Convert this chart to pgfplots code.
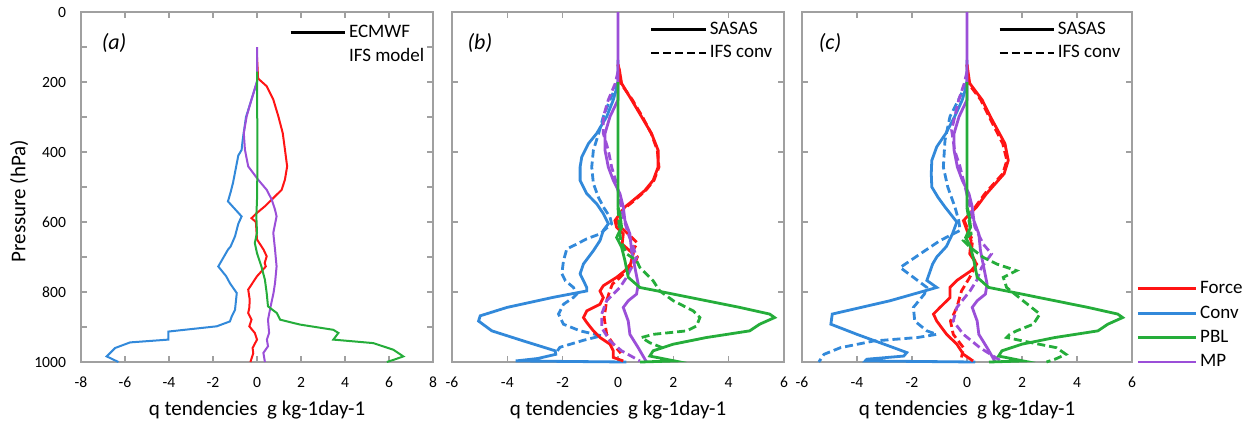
\documentclass[border=0pt]{standalone}
\usepackage{fontspec}
\setmainfont{Carlito}
\usepackage{pgfplots}
\pgfplotsset{compat=1.18}
\definecolor{cforce}{HTML}{FF1414}
\definecolor{cconv}{HTML}{3289DA}
\definecolor{cpbl}{HTML}{25AD3A}
\definecolor{cmp}{HTML}{9B4FD8}
\definecolor{axgray}{HTML}{A0A0A0}
\pgfplotsset{
  leg/.style={legend cell align=left,
    legend style={draw=none, fill=none, inner sep=0pt,
      font=\fontsize{9.5}{11}\selectfont,
      nodes={text height=6.8pt, text depth=2pt, inner sep=1.5pt}}},
  base/.style={scale only axis, height=175pt, y dir=reverse, ymin=0, ymax=1000, clip=false,
    anchor=north west,
    axis line style={axgray, line width=0.6pt},
    tick style={axgray, line width=0.6pt}, major tick length=3pt, minor tick length=3pt,
    tick label style={font=\fontsize{7.8}{9}\selectfont, text=black},
    /pgf/number format/assume math mode=true,
    /pgf/number format/1000 sep={},
    xticklabel style={yshift=-4pt},
    yticklabel style={xshift=-4pt},
    xlabel={q tendencies\ \ g kg-1day-1},
    label style={font=\fontsize{10.5}{12}\selectfont},
    xlabel style={at={(axis description cs:0.5,-0.137)}, anchor=center},
    ytick={0,200,...,1000},
    leg,
    legend image code/.code={\draw[##1] (0pt,0pt) -- (27pt,0pt);},
  },
  sol/.style={line width=1.4pt},
  das/.style={line width=1.4pt, dash pattern=on 4pt off 2pt},
}
\begin{document}
\begin{tikzpicture}
\path[use as bounding box] (0,0) rectangle (626.5pt,-214.5pt);
% ---------------- panel (a)
\begin{axis}[base, at={(40.5pt,-6pt)}, width=176pt, xmin=-8, xmax=8,
  xtick={-8,-6,...,8}, minor ytick={100,300,...,900},
  ylabel={Pressure (hPa)},
  ylabel style={at={(axis description cs:-0.176,0.46)}, anchor=center},
  legend style={at={(0.985,0.975)}, anchor=north east}]
\addlegendimage{black, line width=1.5pt}\addlegendentry{ECMWF}
\addlegendimage{empty legend}\addlegendentry{IFS model}
\addplot[cconv, line width=1pt, forget plot] coordinates {(0,150) (0,200) (-0.25,250) (-0.5,300) (-0.65,365) (-0.70,394) (-0.85,410) (-1.09,488) (-1.2,515) (-1.32,541) (-0.70,584) (-0.85,605) (-1.0,641) (-1.2,670) (-1.32,679) (-1.76,727) (-1.4,755) (-1.23,775) (-0.92,803) (-1.0,851) (-1.15,870) (-1.23,884) (-1.83,898) (-4.03,913) (-4.03,936) (-5.77,944) (-6.45,960) (-6.83,984) (-6.3,1000)};
\addplot[cforce, line width=1pt, forget plot] coordinates {(0,130) (0.05,190) (0.44,212) (0.74,250) (0.97,298) (1.17,346) (1.27,393) (1.37,441) (1.27,479) (1.12,508) (0.67,536) (0.36,555) (0,574) (-0.25,589) (-0.05,600) (0,650) (0.3,679) (0.44,698) (0.35,717) (0.4,727) (0,755) (-0.4,793) (-0.33,822) (-0.35,845) (-0.4,860) (-0.25,879) (-0.35,898) (-0.1,917) (0,936) (-0.2,960) (-0.17,975) (-0.3,1000)};
\addplot[cmp, line width=1pt, forget plot] coordinates {(0,100) (0,198) (-0.25,250) (-0.47,298) (-0.6,346) (-0.55,393) (-0.4,441) (0.05,479) (0.44,508) (0.67,536) (0.82,565) (0.89,584) (0.74,631) (0.82,679) (0.89,727) (0.82,774) (0.75,803) (0.62,841) (0.5,879) (0.55,917) (0.45,936) (0.5,955) (0.29,974) (0.36,1000)};
\addplot[cpbl, line width=1pt, forget plot] coordinates {(0,170) (0,250) (0.02,346) (0.02,441) (0,536) (-0.03,584) (0,631) (-0.1,660) (0,689) (0.2,727) (0.36,765) (0.44,803) (0.5,841) (0.9,860) (1.05,879) (1.95,893) (3.47,908) (3.7,917) (3.47,936) (5.29,946) (6.2,965) (6.65,984) (6.2,994) (5.9,1000)};
\node[font=\itshape\fontsize{11}{13}\selectfont] at (axis description cs:0.094,0.911) {(a)};
\end{axis}
% ---------------- panel (b)
\begin{axis}[base, at={(226pt,-6pt)}, width=166pt, xmin=-6, xmax=6,
  xtick={-6,-4,...,6}, yticklabels={},
  legend style={at={(0.975,0.985)}, anchor=north east}]
\addlegendimage{black, sol}\addlegendentry{SASAS}
\addlegendimage{black, das}\addlegendentry{IFS conv}
\addplot[cconv, sol, forget plot] coordinates {(0,137) (0,204) (-0.17,251) (-0.41,299) (-0.77,347) (-1.07,376) (-1.31,414) (-1.37,443) (-1.37,481) (-1.13,519) (-0.77,548) (-0.53,576) (-0.35,605) (-0.53,624) (-0.65,653) (-0.89,682) (-1.25,720) (-1.37,748) (-1.13,787) (-1.13,797) (-2.33,815) (-4.01,844) (-4.98,868) (-5.04,883) (-4.56,911) (-3.41,940) (-2.27,968) (-2.25,978) (-2.9,990) (-3.7,997) (0.3,1000)};
\addplot[cconv, das, forget plot] coordinates {(0,200) (-0.29,251) (-0.53,299) (-0.7,347) (-0.89,395) (-0.95,443) (-0.89,490) (-0.71,529) (-0.53,557) (-0.29,586) (-0.23,605) (-0.65,634) (-1.13,648) (-1.49,663) (-1.85,677) (-1.97,710) (-2.03,748) (-1.9,768) (-1.61,787) (-1.49,806) (-1.62,816) (-1.97,835) (-2.15,863) (-1.97,892) (-1.37,911) (-0.6,925) (-1.25,938) (-2.1,958) (-2.25,975)};
\addplot[cforce, sol, forget plot] coordinates {(0,150) (0.05,165) (0.13,204) (0.49,251) (0.85,299) (1.21,347) (1.45,395) (1.45,443) (1.27,481) (0.97,510) (0.55,538) (0.25,557) (0.07,576) (-0.11,596) (-0.05,615) (0.19,634) (0.15,663) (0.55,691) (0.45,720) (0.25,739) (-0.05,758) (-0.53,782) (-0.65,797) (-0.53,816) (-0.65,835) (-1.13,854) (-1.25,873) (-1.13,887) (-0.89,911) (-0.65,930) (-0.29,949) (-0.17,968) (-0.17,987) (0.19,997)};
\addplot[cforce, das, forget plot] coordinates {(0,150) (0.1,204) (0.52,251) (0.88,299) (1.2,347) (1.42,395) (1.48,443) (1.3,481) (1.0,510) (0.6,538) (0.3,557) (0.05,576) (-0.05,596) (0.1,615) (0.45,640) (0.7,660) (0.55,680) (0.7,700) (0.6,720) (0.3,740) (-0.05,768) (-0.2,777) (-0.3,797) (-0.41,825) (-0.5,873) (-0.41,921) (-0.17,949) (0.1,975)};
\addplot[cmp, sol, forget plot] coordinates {(0,0) (0,251) (-0.29,299) (-0.47,347) (-0.47,395) (-0.35,443) (-0.17,481) (0.07,519) (0.19,557) (0.25,596) (0.43,634) (0.49,682) (0.61,730) (0.73,777) (0.67,806) (0.37,825) (0.19,844) (0.37,883) (0.43,921) (0.73,959) (1.03,1000)};
\addplot[cmp, das, forget plot] coordinates {(0,170) (-0.1,204) (-0.35,251) (-0.53,299) (-0.53,347) (-0.35,395) (-0.23,443) (-0.05,490) (0.07,538) (0.19,586) (0.37,634) (0.55,672) (0.67,701) (0.49,730) (0.31,758) (0.07,787) (-0.41,825) (-0.59,863) (-0.59,902) (-0.29,940) (0.13,968) (0.79,997)};
\addplot[cpbl, sol, forget plot] coordinates {(0,200) (0,557) (0.07,576) (0.13,615) (-0.05,644) (0.13,672) (0.25,710) (0.37,758) (0.79,787) (2.0,806) (3.2,825) (4.4,844) (5.48,863) (5.66,873) (5.12,892) (4.76,911) (3.2,930) (2.0,949) (1.27,968) (1.15,983) (2.05,997) (0.8,1000)};
\addplot[cpbl, das, forget plot] coordinates {(0,560) (0.05,620) (0.1,653) (0.31,691) (0.67,710) (0.79,730) (1.27,768) (1.51,797) (2.0,825) (2.72,854) (2.96,873) (2.84,897) (2.48,911) (1.27,921) (0.85,930) (1.15,945) (1.63,960)};
\node[font=\itshape\fontsize{11}{13}\selectfont] at (axis description cs:0.084,0.911) {(b)};
\end{axis}
% ---------------- panel (c)
\begin{axis}[base, at={(401pt,-6pt)}, width=165pt, xmin=-6, xmax=6,
  xtick={-6,-4,...,6}, yticklabels={},
  legend style={at={(0.975,0.985)}, anchor=north east}]
\addlegendimage{black, sol}\addlegendentry{SASAS}
\addlegendimage{black, das}\addlegendentry{IFS conv}
\addplot[cconv, sol, forget plot] coordinates {(0,137) (0,204) (-0.17,251) (-0.45,299) (-0.77,347) (-1.1,385) (-1.28,424) (-1.3,462) (-1.28,500) (-1.05,530) (-0.8,557) (-0.37,600) (-0.53,634) (-0.75,670) (-1.1,700) (-1.25,720) (-1.46,767) (-1.1,787) (-2.8,825) (-4.9,863) (-4.95,892) (-4.0,921) (-2.67,959) (-2.19,973) (-2.3,983) (-3.64,992) (-3.7,997) (0.3,1000)};
\addplot[cconv, das, forget plot] coordinates {(0,200) (-0.31,251) (-0.62,299) (-0.8,366) (-0.86,443) (-0.7,500) (-0.44,557) (-0.3,596) (-0.25,624) (-0.98,653) (-1.7,691) (-2.43,730) (-1.95,758) (-1.46,787) (-1.55,806) (-1.95,844) (-1.9,883) (-1.46,911) (-1.1,921) (-1.8,930) (-3.4,940) (-4.6,959) (-5.2,978) (-5.39,1000)};
\addplot[cforce, sol, forget plot] coordinates {(0,150) (0.1,204) (0.55,251) (0.85,299) (1.38,376) (1.5,424) (1.35,462) (0.71,519) (0.35,557) (-0.13,596) (0,624) (0.15,653) (0.1,691) (0.35,720) (0.15,739) (-0.37,767) (-0.62,787) (-0.62,816) (-0.98,844) (-1.22,863) (-1.1,883) (-0.74,921) (-0.37,949) (-0.13,978) (0.22,997)};
\addplot[cforce, das, forget plot] coordinates {(0,150) (0.05,204) (0.5,251) (0.8,299) (1.3,376) (1.45,424) (1.3,462) (0.65,519) (0.3,557) (-0.1,596) (0.05,624) (0.2,653) (0.15,691) (0.35,720) (0.1,758) (-0.2,797) (-0.37,844) (-0.6,883) (-0.5,921) (-0.13,959) (-0.2,987)};
\addplot[cmp, sol, forget plot] coordinates {(0,0) (0,251) (-0.29,299) (-0.47,347) (-0.47,395) (-0.35,443) (-0.17,481) (0.07,519) (0.19,557) (0.25,596) (0.43,634) (0.49,682) (0.61,730) (0.73,777) (0.67,806) (0.37,825) (0.19,844) (0.37,883) (0.43,921) (0.73,959) (1.03,1000)};
\addplot[cmp, das, forget plot] coordinates {(0,170) (-0.1,204) (-0.3,251) (-0.56,337) (-0.45,395) (-0.25,443) (-0.07,500) (0.11,557) (0.29,615) (0.59,663) (0.89,691) (0.53,730) (0.35,767) (0.11,797) (-0.37,844) (-0.5,883) (-0.13,921) (0.47,959) (1.3,1000)};
\addplot[cpbl, sol, forget plot] coordinates {(0,200) (0,557) (0.07,576) (0.13,615) (-0.05,644) (0.13,672) (0.25,710) (0.37,758) (0.79,787) (2.0,806) (3.2,825) (4.4,844) (5.48,863) (5.66,873) (5.12,892) (4.76,911) (3.2,930) (2.0,949) (1.27,968) (1.15,983) (2.05,997) (0.8,1000)};
\addplot[cpbl, das, forget plot] coordinates {(0,560) (0.15,634) (-0.13,653) (0.11,672) (0.59,701) (1.08,720) (1.8,739) (1.32,758) (1.44,787) (2.04,825) (2.65,863) (2.41,892) (1.8,911) (1.55,921) (1.44,930) (2.04,940) (3.25,959) (3.6,978) (3.2,992) (2.89,1000)};
\node[font=\itshape\fontsize{11}{13}\selectfont] at (axis description cs:0.085,0.911) {(c)};
\end{axis}
% ---------------- colour legend
\begin{axis}[scale only axis, hide axis, anchor=north west, at={(401pt,-6pt)},
  width=165pt, height=175pt, xmin=0, xmax=1, ymin=0, ymax=1, leg,
  legend style={at={(1,0.244)}, anchor=north west, xshift=2pt, row sep=0.4pt},
  legend image code/.code={\draw[#1] (0pt,0pt) -- (29pt,0pt);}]
\addlegendimage{cforce, sol}\addlegendentry{Force}
\addlegendimage{cconv, sol}\addlegendentry{Conv}
\addlegendimage{cpbl, sol}\addlegendentry{PBL}
\addlegendimage{cmp, sol}\addlegendentry{MP}
\end{axis}
\end{tikzpicture}
\end{document}
